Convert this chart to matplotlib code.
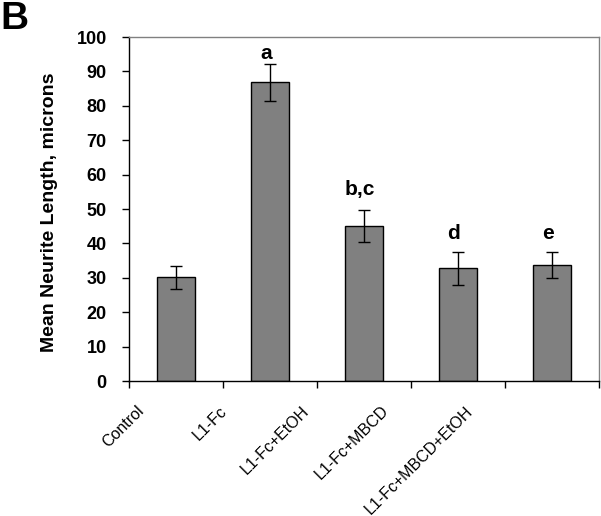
import matplotlib
matplotlib.use("Agg")
import matplotlib.pyplot as plt
import matplotlib.transforms as mtransforms
import numpy as np

plt.rcParams["font.family"] = ["Liberation Sans", "DejaVu Sans"]

# data
categories = ["Control", "L1-Fc", "L1-Fc+EtOH", "L1-Fc+MBCD", "L1-Fc+MBCD+EtOH"]
mean_length = [30.1, 86.8, 45.0, 32.8, 33.6]
sem_length = [3.4, 5.4, 4.6, 4.8, 3.8]
sig_letters = ["", "a", "b,c", "d", "e"]

# per-label tweaks (points above error bar top) to match the original layout
letter_lift = [0, 0.5, 8.5, 6.5, 6.5]
xlabel_shift_px = [-29, -40, -52, -66, -76]

fig = plt.figure(figsize=(6.01, 5.16), dpi=100)
ax = fig.add_axes([129 / 601, 1 - 381 / 516, 470 / 601, 344 / 516])

x = np.arange(len(categories))
ax.bar(x, mean_length, width=0.41, color="#808080", edgecolor="black",
       linewidth=1.0, zorder=2)
ax.errorbar(x, mean_length, yerr=sem_length, fmt="none", ecolor="black",
            elinewidth=1.0, capsize=4, capthick=1.0, zorder=3)

for xi, m, s, lab, lift in zip(x, mean_length, sem_length, sig_letters, letter_lift):
    if not lab:
        continue
    ax.annotate(lab, (xi, m + s), xytext=(-3, lift), textcoords="offset points",
                ha="center", va="bottom", fontsize=15, fontweight="bold")

ax.set_xlim(-0.5, len(categories) - 0.5)
ax.set_ylim(0, 100)
ax.set_yticks(np.arange(0, 101, 10))
ax.tick_params(axis="y", direction="out", length=5, width=1, pad=11,
               labelsize=13)
for t in ax.get_yticklabels():
    t.set_fontweight("bold")

# category boundaries get the tick marks, labels sit at the bar centres
ax.set_xticks(np.arange(-0.5, len(categories), 1.0), minor=True)
ax.set_xticks(x)
ax.set_xticklabels(categories, rotation=45, ha="right", va="top", fontsize=11.5)
ax.tick_params(axis="x", which="major", length=0, pad=16)
ax.tick_params(axis="x", which="minor", direction="out", length=5, width=1)
for t, dx in zip(ax.get_xticklabels(), xlabel_shift_px):
    t.set_transform(t.get_transform() +
                    mtransforms.ScaledTranslation(dx / 100, 0, fig.dpi_scale_trans))

for side in ("left", "bottom"):
    ax.spines[side].set_color("black")
    ax.spines[side].set_linewidth(1.0)
for side in ("top", "right"):
    ax.spines[side].set_color("#808080")
    ax.spines[side].set_linewidth(1.0)

ax.set_ylabel("Mean Neurite Length, microns", fontsize=14, fontweight="bold")
ax.yaxis.set_label_coords(-71 / 470, 0.49)

fig.text(0.0, 1 - 29 / 516, "B", fontsize=28, fontweight="bold",
         ha="left", va="baseline")

fig.savefig("out.png", dpi=100)
plt.close(fig)
